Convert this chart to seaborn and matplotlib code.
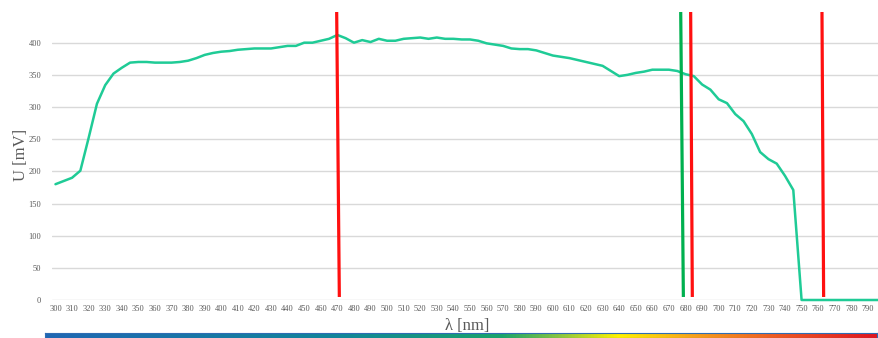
import numpy as np
import pandas as pd
import matplotlib
matplotlib.use("Agg")
import matplotlib.pyplot as plt
from matplotlib.colors import LinearSegmentedColormap
import seaborn as sns

# Measured detector voltage over wavelength (5 nm steps)
wavelength = list(range(300, 805, 5))
voltage = [
    180, 185, 190, 201, 252, 305, 334, 352, 361, 369,   # 300-345
    370, 370, 369, 369, 369, 370, 372, 376, 381, 384,   # 350-395
    386, 387, 389, 390, 391, 391, 391, 393, 395, 395,   # 400-445
    400, 400, 403, 406, 412, 407, 400, 404, 401, 406,   # 450-495
    403, 403, 406, 407, 408, 406, 408, 406, 406, 405,   # 500-545
    405, 403, 399, 397, 395, 391, 390, 390, 388, 384,   # 550-595
    380, 378, 376, 373, 370, 367, 364, 356, 348, 350,   # 600-645
    353, 355, 358, 358, 358, 356, 351, 348, 335, 327,   # 650-695
    312, 306, 289, 278, 258, 230, 219, 212, 193, 171,   # 700-745
    0, 0, 0, 0, 0, 0, 0, 0, 0, 0,                       # 750-795
    0,                                                  # 800
]

# Marker lines (wavelength at top and bottom end of each stroke)
marker_top = [469.6, 677.1, 683.1, 762.3]
marker_bottom = [471.2, 678.7, 684.1, 763.3]
marker_colors = ["#FF1010", "#00B04F", "#FF1010", "#FF1010"]

y_ticks = list(range(0, 401, 50))
x_ticks = list(range(300, 801, 10))

df = pd.DataFrame({"wavelength": wavelength, "voltage": voltage})

sns.set_theme(style="white")
plt.rcParams["font.family"] = ["Liberation Serif", "DejaVu Serif"]

W, H = 879, 338
fig = plt.figure(figsize=(W / 100, H / 100), dpi=100)

# plot area in pixels
px_left, px_top, px_bottom = 52, 12, 300
nm_per_px = 1 / 1.658
x_lo = 297.9
x_hi = 805.0
ax_w = (x_hi - x_lo) / nm_per_px
ax = fig.add_axes([px_left / W, (H - px_bottom) / H, ax_w / W, (px_bottom - px_top) / H])

y_hi = (px_bottom - px_top) / 0.6433
ax.set_xlim(x_lo, x_hi)
ax.set_ylim(0, y_hi)

for yv in y_ticks:
    ax.axhline(yv, color="#D9D9D9", lw=1.0, zorder=0)

sns.lineplot(data=df, x="wavelength", y="voltage", ax=ax, color="#1FCB96",
             lw=1.8, zorder=3, clip_on=False)

y_bot = 4.7
for t, b, c in zip(marker_top, marker_bottom, marker_colors):
    ax.plot([t, b], [y_hi, y_bot], color=c, lw=2.3, zorder=4, solid_capstyle="butt",
            clip_on=False)

ax.set_xticks(x_ticks)
ax.set_xticklabels([str(v) for v in x_ticks])
ax.set_yticks(y_ticks)
ax.set_yticklabels([str(v) for v in y_ticks])
ax.tick_params(axis="x", length=0, pad=3.5, labelsize=6.0, labelcolor="#595959")
ax.tick_params(axis="y", length=0, pad=7.8, labelsize=6.0, labelcolor="#595959")
for lab in ax.get_xticklabels() + ax.get_yticklabels():
    lab.set_fontfamily("Liberation Serif")
for s in ax.spines.values():
    s.set_visible(False)
ax.set_xlabel("")
ax.set_ylabel("")

fig.text(21 / W, (H - 155) / H, "U [mV]", rotation=90, ha="center", va="center",
         fontsize=12, color="#595959", family="Liberation Serif")
fig.text(467 / W, (H - 326) / H, "λ [nm]", ha="center", va="center",
         fontsize=12, color="#595959", family="Liberation Serif")

# visible-spectrum colour bar along the bottom
spec_cmap = LinearSegmentedColormap.from_list(
    "spectrum",
    [(0.0, "#1F67B3"), (0.35, "#11869A"), (0.55, "#1AA56A"), (0.62, "#8CC63F"),
     (0.69, "#FFF200"), (0.78, "#F7A21B"), (0.88, "#EE5A24"), (1.0, "#E0161F")])
bar = fig.add_axes([45 / W, 0 / H, (877 - 45) / W, 5 / H], zorder=5)
bar.imshow(np.linspace(0, 1, 512)[None, :], aspect="auto", cmap=spec_cmap,
           extent=[0, 1, 0, 1])
bar.set_xticks([])
bar.set_yticks([])
for s in bar.spines.values():
    s.set_color("#2E6DB4")
    s.set_linewidth(0.8)

fig.savefig("out.png", dpi=100)
